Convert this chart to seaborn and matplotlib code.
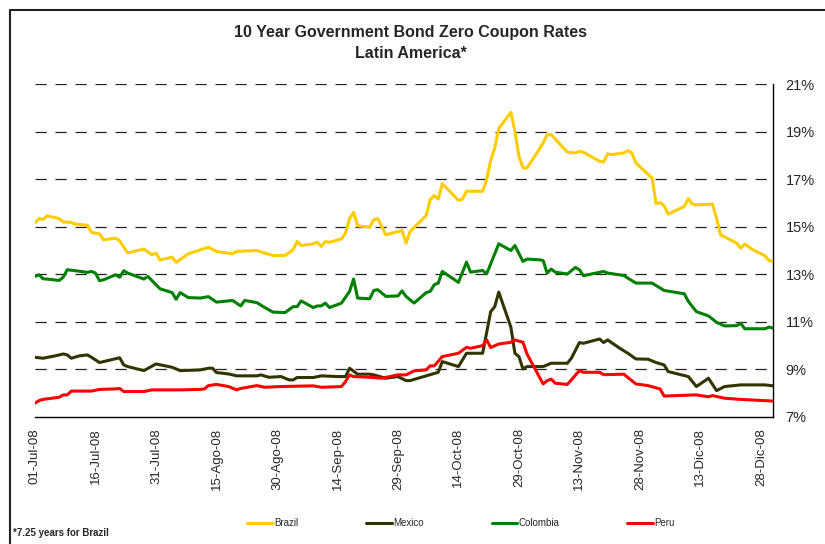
import matplotlib
matplotlib.use("Agg")
import matplotlib.pyplot as plt
import matplotlib.dates as mdates
from matplotlib.lines import Line2D
import seaborn as sns
import pandas as pd

# 10y zero coupon rates (%); dates in 2008 (MM-DD)
brazil_dates = ["07-01", "07-02", "07-03", "07-04", "07-07", "07-08", "07-10", "07-11", "07-14", "07-15",
                "07-17", "07-18", "07-21", "07-22", "07-24", "07-28", "07-30", "07-31", "08-01", "08-04",
                "08-05", "08-08", "08-13", "08-15", "08-19", "08-20", "08-25", "08-27", "08-29", "09-01",
                "09-03", "09-04", "09-05", "09-08", "09-09", "09-10", "09-11", "09-12", "09-15", "09-16",
                "09-17", "09-18", "09-19", "09-22", "09-23", "09-24", "09-26", "09-30", "10-01", "10-02",
                "10-06", "10-07", "10-08", "10-09", "10-10", "10-14", "10-15", "10-16", "10-20", "10-21",
                "10-22", "10-23", "10-24", "10-27", "10-28", "10-29", "10-30", "10-31", "11-03", "11-04",
                "11-05", "11-06", "11-10", "11-12", "11-13", "11-14", "11-18", "11-19", "11-20", "11-21",
                "11-24", "11-25", "11-26", "11-27", "12-01", "12-02", "12-03", "12-04", "12-05", "12-09",
                "12-10", "12-11", "12-12", "12-16", "12-17", "12-18", "12-22", "12-23", "12-24", "12-26",
                "12-29", "12-30", "12-31"]
brazil_rates = [15.16, 15.34, 15.30, 15.46, 15.34, 15.20, 15.18, 15.11, 15.06, 14.76,
                14.70, 14.45, 14.52, 14.40, 13.90, 14.06, 13.82, 13.89, 13.60, 13.72,
                13.50, 13.86, 14.14, 13.96, 13.86, 13.96, 14.00, 13.89, 13.79, 13.79,
                14.03, 14.38, 14.21, 14.28, 14.35, 14.17, 14.38, 14.34, 14.49, 14.73,
                15.34, 15.60, 15.04, 14.98, 15.29, 15.34, 14.66, 14.84, 14.31, 14.80,
                15.47, 16.14, 16.31, 16.16, 16.81, 16.11, 16.16, 16.49, 16.49, 16.98,
                17.79, 18.31, 19.13, 19.81, 19.01, 17.96, 17.47, 17.47, 18.24, 18.52,
                18.87, 18.87, 18.14, 18.10, 18.17, 18.13, 17.75, 17.72, 18.07, 18.03,
                18.10, 18.20, 18.10, 17.68, 17.05, 15.97, 16.02, 15.88, 15.53, 15.85,
                16.18, 15.95, 15.92, 15.95, 15.36, 14.66, 14.31, 14.10, 14.27, 14.03,
                13.78, 13.58, 13.54]

mexico_dates = ["07-01", "07-03", "07-06", "07-08", "07-09", "07-10", "07-12", "07-14", "07-15", "07-17",
                "07-18", "07-22", "07-23", "07-24", "07-28", "07-31", "08-04", "08-06", "08-11", "08-13",
                "08-14", "08-15", "08-18", "08-20", "08-25", "08-26", "08-28", "08-31", "09-02", "09-03",
                "09-04", "09-08", "09-10", "09-14", "09-16", "09-17", "09-19", "09-22", "09-23", "09-26",
                "09-29", "10-01", "10-02", "10-06", "10-09", "10-10", "10-14", "10-16", "10-20", "10-22",
                "10-23", "10-24", "10-27", "10-28", "10-29", "10-30", "10-31", "11-04", "11-06", "11-10",
                "11-11", "11-13", "11-14", "11-18", "11-19", "11-20", "11-23", "11-25", "11-27", "11-30",
                "12-02", "12-04", "12-05", "12-10", "12-12", "12-15", "12-17", "12-19", "12-23", "12-29",
                "12-31"]
mexico_rates = [9.51, 9.47, 9.57, 9.65, 9.61, 9.47, 9.57, 9.61, 9.51, 9.29,
                9.33, 9.49, 9.19, 9.12, 8.95, 9.23, 9.09, 8.95, 8.98, 9.05,
                9.05, 8.87, 8.81, 8.73, 8.73, 8.77, 8.67, 8.70, 8.56, 8.56,
                8.66, 8.66, 8.73, 8.70, 8.70, 9.05, 8.80, 8.80, 8.77, 8.63,
                8.70, 8.53, 8.53, 8.73, 8.88, 9.33, 9.12, 9.68, 9.68, 11.43,
                11.64, 12.25, 10.78, 9.68, 9.54, 9.02, 9.12, 9.12, 9.26, 9.26,
                9.47, 10.13, 10.10, 10.28, 10.13, 10.24, 9.89, 9.68, 9.44, 9.43,
                9.29, 9.19, 8.91, 8.70, 8.28, 8.63, 8.11, 8.28, 8.35, 8.35,
                8.31]

colombia_dates = ["07-01", "07-02", "07-03", "07-04", "07-07", "07-08", "07-09", "07-11", "07-14", "07-15",
                  "07-16", "07-17", "07-18", "07-21", "07-22", "07-23", "07-24", "07-28", "07-29", "07-31",
                  "08-01", "08-04", "08-05", "08-06", "08-08", "08-11", "08-13", "08-15", "08-19", "08-21",
                  "08-22", "08-25", "08-27", "08-29", "09-01", "09-03", "09-04", "09-05", "09-08", "09-09",
                  "09-10", "09-11", "09-12", "09-15", "09-17", "09-18", "09-19", "09-22", "09-23", "09-24",
                  "09-26", "09-29", "09-30", "10-01", "10-03", "10-06", "10-07", "10-08", "10-09", "10-10",
                  "10-14", "10-16", "10-17", "10-20", "10-21", "10-24", "10-27", "10-28", "10-30", "10-31",
                  "11-03", "11-04", "11-05", "11-06", "11-07", "11-10", "11-12", "11-13", "11-14", "11-19",
                  "11-20", "11-24", "11-25", "11-27", "12-01", "12-04", "12-09", "12-10", "12-12", "12-15",
                  "12-17", "12-19", "12-22", "12-23", "12-24", "12-29", "12-30", "12-31"]
colombia_rates = [12.91, 12.98, 12.81, 12.80, 12.74, 12.88, 13.19, 13.15, 13.08, 13.12,
                  13.05, 12.73, 12.77, 12.98, 12.88, 13.15, 13.05, 12.80, 12.91, 12.56,
                  12.39, 12.23, 11.95, 12.23, 12.02, 12.00, 12.06, 11.83, 11.90, 11.67,
                  11.90, 11.81, 11.60, 11.41, 11.39, 11.64, 11.64, 11.88, 11.60, 11.67,
                  11.67, 11.79, 11.60, 11.79, 12.28, 12.80, 12.00, 11.97, 12.32, 12.35,
                  12.07, 12.09, 12.30, 12.07, 11.79, 12.23, 12.28, 12.56, 12.63, 13.12,
                  12.66, 13.51, 13.09, 13.16, 13.02, 14.28, 14.00, 14.21, 13.54, 13.64,
                  13.61, 13.58, 13.05, 13.22, 13.09, 13.01, 13.29, 13.19, 12.94, 13.12,
                  13.05, 12.95, 12.84, 12.63, 12.63, 12.32, 12.18, 11.86, 11.43, 11.25,
                  10.98, 10.83, 10.84, 10.94, 10.71, 10.71, 10.78, 10.74]

peru_dates = ["07-01", "07-02", "07-03", "07-07", "07-08", "07-09", "07-10", "07-15", "07-17", "07-21",
              "07-22", "07-23", "07-28", "07-30", "08-06", "08-11", "08-12", "08-13", "08-15", "08-18",
              "08-20", "08-21", "08-25", "08-27", "08-31", "09-08", "09-10", "09-15", "09-16", "09-17",
              "09-18", "09-22", "09-25", "09-29", "10-01", "10-03", "10-06", "10-07", "10-08", "10-10",
              "10-14", "10-16", "10-17", "10-20", "10-21", "10-22", "10-24", "10-27", "10-28", "10-30",
              "10-31", "11-04", "11-05", "11-06", "11-07", "11-10", "11-11", "11-13", "11-14", "11-18",
              "11-19", "11-24", "11-27", "11-30", "12-03", "12-04", "12-12", "12-15", "12-16", "12-19",
              "12-23", "12-31"]
peru_rates = [7.58, 7.69, 7.74, 7.83, 7.93, 7.93, 8.09, 8.09, 8.16, 8.18,
              8.20, 8.07, 8.07, 8.14, 8.14, 8.16, 8.18, 8.32, 8.37, 8.28,
              8.14, 8.20, 8.32, 8.25, 8.28, 8.31, 8.25, 8.28, 8.49, 8.77,
              8.70, 8.67, 8.63, 8.77, 8.77, 8.94, 8.98, 9.15, 9.15, 9.54,
              9.68, 9.93, 9.89, 10.00, 10.24, 9.92, 10.07, 10.14, 10.24, 10.14,
              9.65, 8.39, 8.53, 8.59, 8.42, 8.37, 8.56, 8.95, 8.88, 8.88,
              8.78, 8.80, 8.39, 8.32, 8.18, 7.88, 7.93, 7.85, 7.90, 7.79,
              7.74, 7.67]

countries = ["Brazil", "Mexico", "Colombia", "Peru"]
colors = ["#FFCC00", "#333300", "#008000", "#FF0000"]

tick_dates = ["2008-07-01", "2008-07-16", "2008-07-31", "2008-08-15", "2008-08-30", "2008-09-14",
              "2008-09-29", "2008-10-14", "2008-10-29", "2008-11-13", "2008-11-28", "2008-12-13",
              "2008-12-28"]
tick_labels = ["01-Jul-08", "16-Jul-08", "31-Jul-08", "15-Ago-08", "30-Ago-08", "14-Sep-08",
               "29-Sep-08", "14-Oct-08", "29-Oct-08", "13-Nov-08", "28-Nov-08", "13-Dic-08",
               "28-Dic-08"]
y_ticks = [7, 9, 11, 13, 15, 17, 19, 21]

# long format table for seaborn
parts = []
for name, d, r in [("Brazil", brazil_dates, brazil_rates), ("Mexico", mexico_dates, mexico_rates),
                   ("Colombia", colombia_dates, colombia_rates), ("Peru", peru_dates, peru_rates)]:
    parts.append(pd.DataFrame({"date": pd.to_datetime(["2008-" + x for x in d]), "rate": r, "country": name}))
df = pd.concat(parts, ignore_index=True)

sns.set_style("white")
plt.rcParams["font.family"] = ["Liberation Sans", "DejaVu Sans"]

fig = plt.figure(figsize=(8.25, 5.44), dpi=100)
ax = fig.add_axes([35 / 825, 1 - 417 / 544, (773 - 35) / 825, (417 - 84) / 544])

for v in y_ticks[1:]:
    ax.axhline(v, color="#222222", lw=0.9, ls=(0, (9, 7)), zorder=1)

sns.lineplot(data=df, x="date", y="rate", hue="country", hue_order=countries,
             palette=dict(zip(countries, colors)), estimator=None, sort=True,
             lw=2.2, ax=ax, legend=False, zorder=3)

ax.set_xlim(pd.Timestamp("2008-07-01"), pd.Timestamp("2008-12-31"))
ax.set_ylim(7, 21)
ax.set_xticks(pd.to_datetime(tick_dates))
ax.set_xticklabels(tick_labels, rotation=90, fontsize=9.5)
ax.set_yticks(y_ticks)
ax.set_yticklabels([f"{v}%" for v in y_ticks], fontsize=10.5)
ax.yaxis.tick_right()
ax.tick_params(axis="both", length=0)
ax.tick_params(axis="x", pad=8)
ax.tick_params(axis="y", pad=9)
ax.set_xlabel("")
ax.set_ylabel("")
for s in ["top", "left"]:
    ax.spines[s].set_visible(False)
for s in ["bottom", "right"]:
    ax.spines[s].set_color("black")
    ax.spines[s].set_linewidth(1.0)

fig.text(411 / 825, 1 - 32 / 544, "10 Year Government Bond Zero Coupon Rates",
         ha="center", va="center", fontsize=11.5, fontweight="bold")
fig.text(411 / 825, 1 - 53 / 544, "Latin America*",
         ha="center", va="center", fontsize=11.5, fontweight="bold")

handles = [Line2D([], [], color=c, lw=2.2) for c in colors]
fig.legend(handles, countries, loc="center", bbox_to_anchor=(461 / 825, 1 - 523 / 544),
           ncol=4, frameon=False, fontsize=7, handlelength=2.6, handletextpad=0.15,
           columnspacing=7.0)

fig.text(13 / 825, 1 - 533 / 544, "*7.25 years for Brazil", ha="left", va="center",
         fontsize=7, fontweight="bold")

# chart frame (top and left edges)
fig.add_artist(Line2D([10 / 825, 1], [1 - 10 / 544, 1 - 10 / 544], color="#222222", lw=1.5))
fig.add_artist(Line2D([10 / 825, 10 / 825], [0, 1 - 10 / 544], color="#222222", lw=1.5))

fig.savefig("out.png", dpi=100)
